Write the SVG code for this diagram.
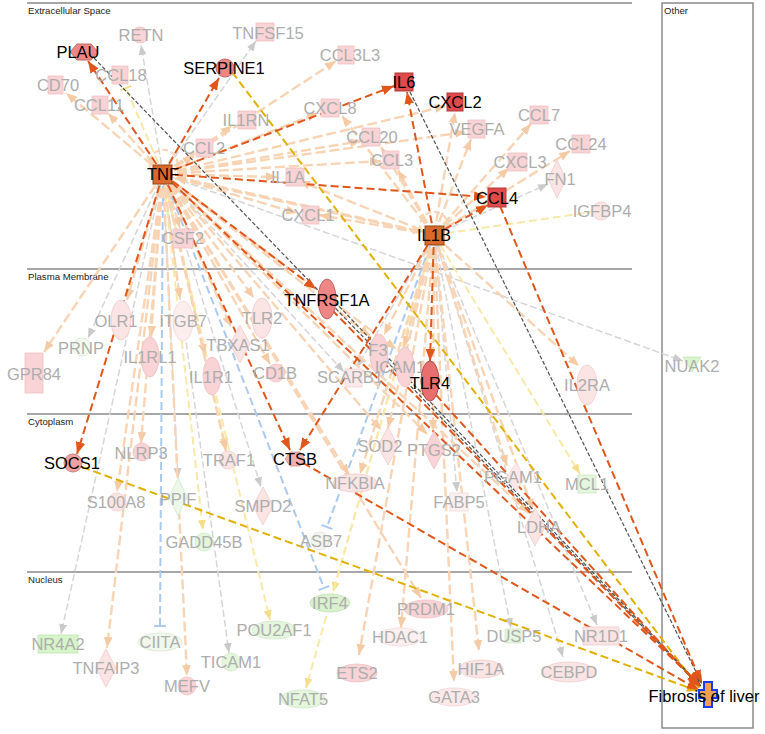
<svg xmlns="http://www.w3.org/2000/svg" width="765" height="734" viewBox="0 0 765 734">
<style>
.do{stroke:#e0561b;stroke-width:2;stroke-dasharray:8 4;fill:none;marker-end:url(#a-do)}
.lo{stroke:#f8d4b4;stroke-width:2.4;stroke-dasharray:10 4;fill:none;marker-end:url(#a-lo)}
.lg{stroke:#d6d6d6;stroke-width:1.5;stroke-dasharray:7 3;fill:none;marker-end:url(#a-lg)}
.ly{stroke:#f8e9a8;stroke-width:2;stroke-dasharray:8 4;fill:none;marker-end:url(#a-ly)}
.lyt{stroke:#f8e9a8;stroke-width:2;stroke-dasharray:8 4;fill:none;marker-end:url(#t-ly)}
.lyn{stroke:#f8e9a8;stroke-width:2;stroke-dasharray:8 4;fill:none}
.gd{stroke:#e2b000;stroke-width:2;stroke-dasharray:8 4;fill:none;marker-end:url(#a-gd)}
.dg{stroke:#505050;stroke-width:1.2;stroke-dasharray:4 2;fill:none;marker-end:url(#a-dg)}
.lb{stroke:#abcaf0;stroke-width:2;stroke-dasharray:8 4;fill:none;marker-end:url(#t-lb)}
.loop{stroke:#f8d4b4;stroke-width:2;stroke-dasharray:6 3;fill:none}
.sec{stroke:#8a8a8a;stroke-width:1.5;fill:none}
.cl{font-family:"Liberation Sans",Arial,sans-serif;font-size:9.6px;fill:#222}
.g{font-family:"Liberation Sans",Arial,sans-serif;font-size:16.5px;fill:#adadad;text-anchor:middle;dominant-baseline:central}
.b{font-family:"Liberation Sans",Arial,sans-serif;font-size:16.5px;fill:#000;text-anchor:middle;dominant-baseline:central}
.pk{fill:#f9d3d5;stroke:#efc2c4;stroke-width:0.8}
.pp{fill:#fbe4e4;stroke:#f1cccc;stroke-width:0.8}
.gr{fill:#e4f6dc;stroke:#cfe8c6;stroke-width:0.8}
.rd{fill:#e14a4a;stroke:#b03a3a;stroke-width:1}
.md{fill:#ee8686;stroke:#c06a6a;stroke-width:1}
.or{fill:#d8692c;stroke:#9c4414;stroke-width:1}
</style>
<defs>
<marker id="a-do" viewBox="0 0 10 8" refX="10" refY="4" markerWidth="12" markerHeight="10" markerUnits="userSpaceOnUse" orient="auto"><path d="M0,0L10,4L0,8z" fill="#e0561b"/></marker>
<marker id="a-lo" viewBox="0 0 10 8" refX="10" refY="4" markerWidth="11" markerHeight="9" markerUnits="userSpaceOnUse" orient="auto"><path d="M0,0L10,4L0,8z" fill="#f5cba6"/></marker>
<marker id="a-lg" viewBox="0 0 10 8" refX="10" refY="4" markerWidth="10" markerHeight="8" markerUnits="userSpaceOnUse" orient="auto"><path d="M0,0L10,4L0,8z" fill="#cacaca"/></marker>
<marker id="a-ly" viewBox="0 0 10 8" refX="10" refY="4" markerWidth="10" markerHeight="8" markerUnits="userSpaceOnUse" orient="auto"><path d="M0,0L10,4L0,8z" fill="#f4de8a"/></marker>
<marker id="a-gd" viewBox="0 0 10 8" refX="10" refY="4" markerWidth="11" markerHeight="9" markerUnits="userSpaceOnUse" orient="auto"><path d="M0,0L10,4L0,8z" fill="#e2b000"/></marker>
<marker id="a-dg" viewBox="0 0 10 8" refX="10" refY="4" markerWidth="10" markerHeight="8" markerUnits="userSpaceOnUse" orient="auto"><path d="M0,0L10,4L0,8z" fill="#505050"/></marker>
<marker id="t-lb" viewBox="-2 -6 4 12" refX="0" refY="0" markerWidth="4" markerHeight="12" markerUnits="userSpaceOnUse" orient="auto"><path d="M0,-6V6" stroke="#abcaf0" stroke-width="2"/></marker>
<marker id="t-ly" viewBox="-2 -6 4 12" refX="0" refY="0" markerWidth="4" markerHeight="12" markerUnits="userSpaceOnUse" orient="auto"><path d="M0,-6V6" stroke="#f4de8a" stroke-width="2"/></marker>
</defs>
<rect width="765" height="734" fill="#fff"/>
<g id="compartments">
<line class="sec" x1="27" y1="3" x2="632" y2="3"/>
<text class="cl" x="28" y="14">Extracellular Space</text>
<line class="sec" x1="27" y1="269" x2="632" y2="269"/>
<text class="cl" x="28" y="280">Plasma Membrane</text>
<line class="sec" x1="27" y1="414" x2="632" y2="414"/>
<text class="cl" x="28" y="425">Cytoplasm</text>
<line class="sec" x1="27" y1="572" x2="632" y2="572"/>
<text class="cl" x="28" y="583">Nucleus</text>
<rect class="sec" x="662" y="3" width="91" height="725"/>
<text class="cl" x="664" y="14">Other</text>
</g>
<g id="connectors">
<line class="lg" x1="163" y1="174" x2="141" y2="45"/>
<line class="lg" x1="163" y1="174" x2="256" y2="41"/>
<line class="lg" x1="163" y1="174" x2="88" y2="338"/>
<line class="lg" x1="163" y1="174" x2="178" y2="478"/>
<line class="lg" x1="163" y1="174" x2="261" y2="487"/>
<line class="lg" x1="163" y1="174" x2="61" y2="634"/>
<line class="lg" x1="163" y1="174" x2="229" y2="653"/>
<line class="lg" x1="163" y1="174" x2="683" y2="361"/>
<line class="lg" x1="434" y1="235" x2="548" y2="184"/>
<line class="lg" x1="434" y1="235" x2="457" y2="492"/>
<line class="lg" x1="434" y1="235" x2="511" y2="628"/>
<line class="lg" x1="434" y1="235" x2="597" y2="625"/>
<line class="lg" x1="434" y1="235" x2="563" y2="657"/>
<line class="lg" x1="434" y1="235" x2="357" y2="367"/>
<line class="lg" x1="163" y1="174" x2="344" y2="372"/>
<line class="lyt" x1="163" y1="174" x2="126" y2="88"/>
<line class="ly" x1="163" y1="174" x2="203" y2="530"/>
<line class="ly" x1="163" y1="174" x2="270" y2="620"/>
<line class="ly" x1="163" y1="174" x2="226" y2="448"/>
<line class="lyn" x1="434" y1="235" x2="592" y2="212"/>
<line class="ly" x1="434" y1="235" x2="580" y2="474"/>
<line class="ly" x1="434" y1="235" x2="333" y2="592"/>
<line class="ly" x1="434" y1="235" x2="306" y2="688"/>
<line class="lb" x1="163" y1="174" x2="160" y2="626"/>
<line class="lb" x1="163" y1="174" x2="324" y2="588"/>
<line class="lb" x1="434" y1="235" x2="327" y2="527"/>
<line class="lo" x1="163" y1="174" x2="66" y2="93"/>
<line class="lo" x1="163" y1="174" x2="108" y2="113"/>
<line class="lo" x1="163" y1="174" x2="194" y2="156"/>
<line class="lo" x1="163" y1="174" x2="232" y2="126"/>
<line class="lo" x1="163" y1="174" x2="336" y2="61"/>
<line class="lo" x1="163" y1="174" x2="318" y2="113"/>
<line class="lo" x1="163" y1="174" x2="361" y2="141"/>
<line class="lo" x1="163" y1="174" x2="381" y2="161"/>
<line class="lo" x1="163" y1="174" x2="277" y2="177"/>
<line class="lo" x1="163" y1="174" x2="297" y2="213"/>
<line class="lo" x1="163" y1="174" x2="446" y2="106"/>
<line class="lo" x1="163" y1="174" x2="424" y2="232"/>
<line class="lo" x1="163" y1="174" x2="180" y2="228"/>
<line class="lo" x1="163" y1="174" x2="127" y2="300"/>
<line class="lo" x1="163" y1="174" x2="180" y2="299"/>
<line class="lo" x1="163" y1="174" x2="44" y2="352"/>
<line class="lo" x1="163" y1="174" x2="151" y2="337"/>
<line class="lo" x1="163" y1="174" x2="231" y2="327"/>
<line class="lo" x1="163" y1="174" x2="205" y2="355"/>
<line class="lo" x1="163" y1="174" x2="254" y2="298"/>
<line class="lo" x1="163" y1="174" x2="270" y2="364"/>
<line class="lo" x1="163" y1="174" x2="370" y2="336"/>
<line class="lo" x1="163" y1="174" x2="396" y2="349"/>
<line class="lo" x1="163" y1="174" x2="141" y2="443"/>
<line class="lo" x1="163" y1="174" x2="226" y2="451"/>
<line class="lo" x1="163" y1="174" x2="117" y2="492"/>
<line class="lo" x1="163" y1="174" x2="381" y2="430"/>
<line class="lo" x1="163" y1="174" x2="427" y2="434"/>
<line class="lo" x1="163" y1="174" x2="349" y2="475"/>
<line class="lo" x1="163" y1="174" x2="107" y2="648"/>
<line class="lo" x1="163" y1="174" x2="187" y2="676"/>
<line class="lo" x1="163" y1="174" x2="421" y2="598"/>
<line class="lo" x1="163" y1="174" x2="466" y2="132"/>
<line class="lo" x1="163" y1="174" x2="529" y2="513"/>
<line class="lo" x1="434" y1="235" x2="398" y2="170"/>
<line class="lo" x1="434" y1="235" x2="381" y2="147"/>
<line class="lo" x1="434" y1="235" x2="455" y2="112"/>
<line class="lo" x1="434" y1="235" x2="471" y2="139"/>
<line class="lo" x1="434" y1="235" x2="531" y2="124"/>
<line class="lo" x1="434" y1="235" x2="509" y2="168"/>
<line class="lo" x1="434" y1="235" x2="570" y2="151"/>
<line class="lo" x1="434" y1="235" x2="299" y2="181"/>
<line class="lo" x1="434" y1="235" x2="319" y2="215"/>
<line class="lo" x1="434" y1="235" x2="175" y2="178"/>
<line class="lo" x1="434" y1="235" x2="342" y2="116"/>
<line class="lo" x1="434" y1="235" x2="384" y2="335"/>
<line class="lo" x1="434" y1="235" x2="404" y2="347"/>
<line class="lo" x1="434" y1="235" x2="388" y2="428"/>
<line class="lo" x1="434" y1="235" x2="433" y2="431"/>
<line class="lo" x1="434" y1="235" x2="360" y2="474"/>
<line class="lo" x1="434" y1="235" x2="401" y2="628"/>
<line class="lo" x1="434" y1="235" x2="359" y2="655"/>
<line class="lo" x1="434" y1="235" x2="454" y2="682"/>
<line class="lo" x1="434" y1="235" x2="479" y2="651"/>
<line class="lo" x1="434" y1="235" x2="579" y2="366"/>
<line class="lo" x1="434" y1="235" x2="507" y2="466"/>
<line class="lo" x1="434" y1="235" x2="533" y2="510"/>
<path class="loop" d="M151,170 A14,14 0 1,1 176,170"/>
<path class="loop" d="M421,231 A14,14 0 1,1 447,231"/>
<line class="gd" x1="232" y1="72" x2="699" y2="688"/>
<line class="gd" x1="82" y1="467" x2="698" y2="691"/>
<line class="dg" x1="94" y1="58" x2="700" y2="686"/>
<line class="dg" x1="410" y1="92" x2="702" y2="684"/>
<line class="dg" x1="335" y1="302" x2="701" y2="686"/>
<line class="do" x1="163" y1="174" x2="88" y2="61"/>
<line class="do" x1="163" y1="174" x2="219" y2="78"/>
<line class="do" x1="163" y1="174" x2="394" y2="86"/>
<line class="do" x1="163" y1="174" x2="486" y2="197"/>
<line class="do" x1="163" y1="174" x2="316" y2="289"/>
<line class="do" x1="163" y1="174" x2="77" y2="454"/>
<line class="do" x1="163" y1="174" x2="290" y2="450"/>
<line class="do" x1="163" y1="174" x2="699" y2="684"/>
<line class="do" x1="434" y1="235" x2="407" y2="92"/>
<line class="do" x1="434" y1="235" x2="488" y2="205"/>
<line class="do" x1="434" y1="235" x2="430" y2="361"/>
<line class="do" x1="434" y1="235" x2="300" y2="450"/>
<line class="do" x1="500" y1="206" x2="701" y2="682"/>
<line class="do" x1="332" y1="310" x2="700" y2="686"/>
<line class="do" x1="436" y1="395" x2="700" y2="687"/>
<line class="do" x1="303" y1="463" x2="699" y2="690"/>
</g>
<g id="n-PLAU"><polygon class="md" points="70,52 77,44 91,44 98,52 91,60 77,60"/><text class="b" x="78" y="52">PLAU</text></g>
<g id="n-RETN"><circle class="pk" cx="140" cy="35" r="8"/><text class="g" x="141" y="35">RETN</text></g>
<g id="n-TNFSF15"><rect class="pk" x="256" y="23" width="18" height="18"/><text class="g" x="268" y="33">TNFSF15</text></g>
<g id="n-SERPINE1"><circle class="md" cx="225" cy="68" r="9"/><text class="b" x="224" y="68">SERPINE1</text></g>
<g id="n-CD70"><rect class="pk" x="48" y="76" width="15" height="18"/><text class="g" x="58" y="85">CD70</text></g>
<g id="n-CCL18"><rect class="pk" x="112" y="66" width="16" height="18"/><text class="g" x="121" y="75">CCL18</text></g>
<g id="n-CCL11"><rect class="pk" x="92" y="96" width="16" height="18"/><text class="g" x="99" y="105">CCL11</text></g>
<g id="n-CCL3L3"><rect class="pk" x="338" y="46" width="16" height="18"/><text class="g" x="350" y="55">CCL3L3</text></g>
<g id="n-IL6"><rect class="rd" x="395" y="73" width="18" height="18"/><text class="b" x="404" y="82">IL6</text></g>
<g id="n-CXCL2"><rect class="rd" x="447" y="93" width="16" height="18"/><text class="b" x="455" y="102">CXCL2</text></g>
<g id="n-CXCL8"><rect class="pk" x="321" y="99" width="18" height="18"/><text class="g" x="330" y="108">CXCL8</text></g>
<g id="n-IL1RN"><rect class="pk" x="238" y="111" width="18" height="18"/><text class="g" x="246" y="120">IL1RN</text></g>
<g id="n-CCL2"><rect class="pk" x="196" y="139" width="17" height="18"/><text class="g" x="204" y="148">CCL2</text></g>
<g id="n-IL1A"><rect class="pk" x="286" y="168" width="18" height="18"/><text class="g" x="288" y="177">IL1A</text></g>
<g id="n-CCL20"><rect class="pk" x="362" y="128" width="18" height="18"/><text class="g" x="372" y="137">CCL20</text></g>
<g id="n-CCL3"><rect class="pk" x="383" y="151" width="16" height="18"/><text class="g" x="392" y="160">CCL3</text></g>
<g id="n-VEGFA"><rect class="pk" x="468" y="120" width="17" height="18"/><text class="g" x="477" y="129">VEGFA</text></g>
<g id="n-CCL7"><rect class="pk" x="530" y="106" width="18" height="18"/><text class="g" x="539" y="115">CCL7</text></g>
<g id="n-CXCL3"><rect class="pk" x="508" y="153" width="19" height="18"/><text class="g" x="520" y="162">CXCL3</text></g>
<g id="n-CCL24"><rect class="pk" x="572" y="135" width="18" height="18"/><text class="g" x="581" y="144">CCL24</text></g>
<g id="n-FN1"><polygon class="pp" points="557,160 566,179 557,198 548,179"/><text class="g" x="560" y="179">FN1</text></g>
<g id="n-CCL4"><rect class="rd" x="488" y="188" width="18" height="19"/><text class="b" x="497" y="198">CCL4</text></g>
<g id="n-IGFBP4"><circle class="pp" cx="601" cy="211" r="9"/><text class="g" x="602" y="211">IGFBP4</text></g>
<g id="n-CXCL1"><rect class="pk" x="302" y="206" width="17" height="18"/><text class="g" x="308" y="215">CXCL1</text></g>
<g id="n-TNF"><rect class="or" x="153" y="165" width="19" height="19"/><text class="b" x="163" y="174">TNF</text></g>
<g id="n-IL1B"><rect class="or" x="425" y="226" width="19" height="19"/><text class="b" x="434" y="235">IL1B</text></g>
<g id="n-CSF2"><rect class="pk" x="173" y="229" width="20" height="19"/><text class="g" x="183" y="238">CSF2</text></g>
<g id="n-TNFRSF1A"><ellipse class="md" cx="327" cy="299" rx="9" ry="20"/><text class="b" x="327" y="300">TNFRSF1A</text></g>
<g id="n-OLR1"><ellipse class="pp" cx="121" cy="320" rx="10" ry="20"/><text class="g" x="116" y="321">OLR1</text></g>
<g id="n-ITGB7"><ellipse fill="#fdeeee" stroke="#f1d6d6" stroke-width="0.8" cx="183" cy="321" rx="10" ry="20"/><text class="g" x="183" y="321">ITGB7</text></g>
<g id="n-TLR2"><ellipse class="pp" cx="262" cy="318" rx="10" ry="20"/><text class="g" x="262" y="318">TLR2</text></g>
<g id="n-PRNP"><circle fill="#f2faef" stroke="#d8ecd0" stroke-width="0.8" cx="82" cy="347" r="9"/><text class="g" x="81" y="348">PRNP</text></g>
<g id="n-GPR84"><rect class="pk" x="25" y="353" width="18" height="40"/><text class="g" x="34" y="374">GPR84</text></g>
<g id="n-IL1RL1"><ellipse class="pk" cx="150" cy="357" rx="9" ry="20"/><text class="g" x="150" y="357">IL1RL1</text></g>
<g id="n-TBXAS1"><polygon class="pp" points="240,325 250,344 240,363 230,344"/><text class="g" x="238" y="345">TBXAS1</text></g>
<g id="n-IL1R1"><ellipse class="pk" cx="212" cy="376" rx="9" ry="19"/><text class="g" x="211" y="377">IL1R1</text></g>
<g id="n-CD1B"><circle class="pk" cx="276" cy="373" r="9"/><text class="g" x="275" y="373">CD1B</text></g>
<g id="n-F3"><ellipse class="pk" cx="379" cy="354" rx="9" ry="20"/><text class="g" x="378" y="350">F3</text></g>
<g id="n-ICAM1"><ellipse class="pk" cx="405" cy="367" rx="9" ry="20"/><text class="g" x="400" y="367">ICAM1</text></g>
<g id="n-SCARB1"><rect fill="#fde8ea" stroke="#f1d2d4" stroke-width="0.8" x="345" y="369" width="17" height="18"/><text class="g" x="350" y="377">SCARB1</text></g>
<g id="n-TLR4"><ellipse fill="#e86f6f" stroke="#b85050" cx="430" cy="381" rx="9" ry="20"/><text class="b" x="430" y="383">TLR4</text></g>
<g id="n-IL2RA"><ellipse class="pp" cx="587" cy="385" rx="10" ry="20"/><text class="g" x="587" y="385">IL2RA</text></g>
<g id="n-NUAK2"><polygon fill="#d8f5cc" stroke="#c4e6b8" stroke-width="0.8" points="683,357 701,357 692,372"/><text class="g" x="692" y="366">NUAK2</text></g>
<g id="n-SOCS1"><circle fill="#f0a2a2" stroke="#c88080" cx="73" cy="463" r="9"/><text class="b" x="72" y="463">SOCS1</text></g>
<g id="n-NLRP3"><circle class="pk" cx="142" cy="452" r="9"/><text class="g" x="141" y="453">NLRP3</text></g>
<g id="n-TRAF1"><circle class="pp" cx="228" cy="460" r="9"/><text class="g" x="229" y="460">TRAF1</text></g>
<g id="n-CTSB"><polygon fill="#f0b0b0" stroke="#d09090" stroke-width="0.8" points="285,459 290,452 300,452 305,459 300,466 290,466"/><text class="b" x="295" y="459">CTSB</text></g>
<g id="n-SOD2"><polygon class="pp" points="388,427 398,446 388,465 378,446"/><text class="g" x="380" y="446">SOD2</text></g>
<g id="n-PTGS2"><polygon class="pk" points="434,431 444,450 434,469 424,450"/><text class="g" x="434" y="450">PTGS2</text></g>
<g id="n-NFKBIA"><ellipse class="pp" cx="355" cy="483" rx="22" ry="9"/><text class="g" x="355" y="483">NFKBIA</text></g>
<g id="n-PGAM1"><polygon fill="#fde9e9" stroke="#f1d4d4" stroke-width="0.8" points="516,463 525,477 516,491 507,477"/><text class="g" x="513" y="477">PGAM1</text></g>
<g id="n-MCL1"><rect class="gr" x="578" y="475" width="18" height="18"/><text class="g" x="587" y="484">MCL1</text></g>
<g id="n-FABP5"><rect fill="#fdf0f0" stroke="#f1dada" stroke-width="0.8" x="450" y="493" width="18" height="18"/><text class="g" x="459" y="502">FABP5</text></g>
<g id="n-S100A8"><circle class="pp" cx="117" cy="502" r="9"/><text class="g" x="116" y="502">S100A8</text></g>
<g id="n-PPIF"><polygon fill="#eef8ea" stroke="#d0e8c8" stroke-width="0.8" points="178,478 187,497 178,516 169,497"/><text class="g" x="178" y="499">PPIF</text></g>
<g id="n-SMPD2"><polygon class="pp" points="263,487 273,506 263,525 253,506"/><text class="g" x="263" y="506">SMPD2</text></g>
<g id="n-GADD45B"><circle class="gr" cx="204" cy="542" r="9"/><text class="g" x="204" y="542">GADD45B</text></g>
<g id="n-ASB7"><circle fill="#f3f5ef" stroke="#dfe4da" stroke-width="0.8" cx="320" cy="541" r="9"/><text class="g" x="321" y="541">ASB7</text></g>
<g id="n-LDHA"><polygon class="pp" points="535,508 545,527 535,546 525,527"/><text class="g" x="539" y="527">LDHA</text></g>
<g id="n-NR4A2"><rect fill="#d6f5c8" stroke="#c0e4b2" stroke-width="0.8" x="38" y="635" width="40" height="18"/><text class="g" x="58" y="644">NR4A2</text></g>
<g id="n-CIITA"><ellipse fill="#f0f8ec" stroke="#d8ead0" stroke-width="0.8" cx="160" cy="642" rx="22" ry="9"/><text class="g" x="160" y="642">CIITA</text></g>
<g id="n-POU2AF1"><ellipse class="gr" cx="274" cy="630" rx="22" ry="9"/><text class="g" x="274" y="630">POU2AF1</text></g>
<g id="n-TICAM1"><circle class="gr" cx="231" cy="662" r="9"/><text class="g" x="231" y="662">TICAM1</text></g>
<g id="n-TNFAIP3"><polygon class="pp" points="106,649 116,668 106,687 96,668"/><text class="g" x="106" y="668">TNFAIP3</text></g>
<g id="n-MEFV"><circle class="pk" cx="187" cy="686" r="9"/><text class="g" x="187" y="686">MEFV</text></g>
<g id="n-IRF4"><ellipse fill="#d9f2cd" stroke="#c2e2b4" stroke-width="0.8" cx="330" cy="603" rx="20" ry="9"/><text class="g" x="330" y="603">IRF4</text></g>
<g id="n-NFAT5"><ellipse class="gr" cx="303" cy="699" rx="22" ry="9"/><text class="g" x="303" y="699">NFAT5</text></g>
<g id="n-PRDM1"><ellipse class="pk" cx="426" cy="609" rx="22" ry="9"/><text class="g" x="426" y="609">PRDM1</text></g>
<g id="n-HDAC1"><ellipse fill="#fdf0f0" stroke="#f1dada" stroke-width="0.8" cx="400" cy="637" rx="22" ry="9"/><text class="g" x="400" y="637">HDAC1</text></g>
<g id="n-ETS2"><ellipse class="pk" cx="357" cy="673" rx="20" ry="9"/><text class="g" x="357" y="673">ETS2</text></g>
<g id="n-HIF1A"><ellipse class="pp" cx="481" cy="669" rx="22" ry="9"/><text class="g" x="481" y="669">HIF1A</text></g>
<g id="n-GATA3"><ellipse fill="#fde9e9" stroke="#f1d4d4" stroke-width="0.8" cx="454" cy="697" rx="22" ry="9"/><text class="g" x="454" y="697">GATA3</text></g>
<g id="n-DUSP5"><rect class="gr" x="505" y="629" width="16" height="14"/><text class="g" x="514" y="636">DUSP5</text></g>
<g id="n-NR1D1"><rect class="pp" x="583" y="627" width="36" height="18"/><text class="g" x="601" y="636">NR1D1</text></g>
<g id="n-CEBPD"><ellipse class="pp" cx="569" cy="672" rx="26" ry="10"/><text class="g" x="569" y="672">CEBPD</text></g>
<g id="n-Fibrosis"><polygon fill="#f0a050" stroke="#1a3cf0" stroke-width="2" points="704,682 712,682 712,690 717,690 717,698 712,698 712,707 704,707 704,698 699,698 699,690 704,690"/><text class="b" x="704" y="696">Fibrosis of liver</text></g>
</svg>
